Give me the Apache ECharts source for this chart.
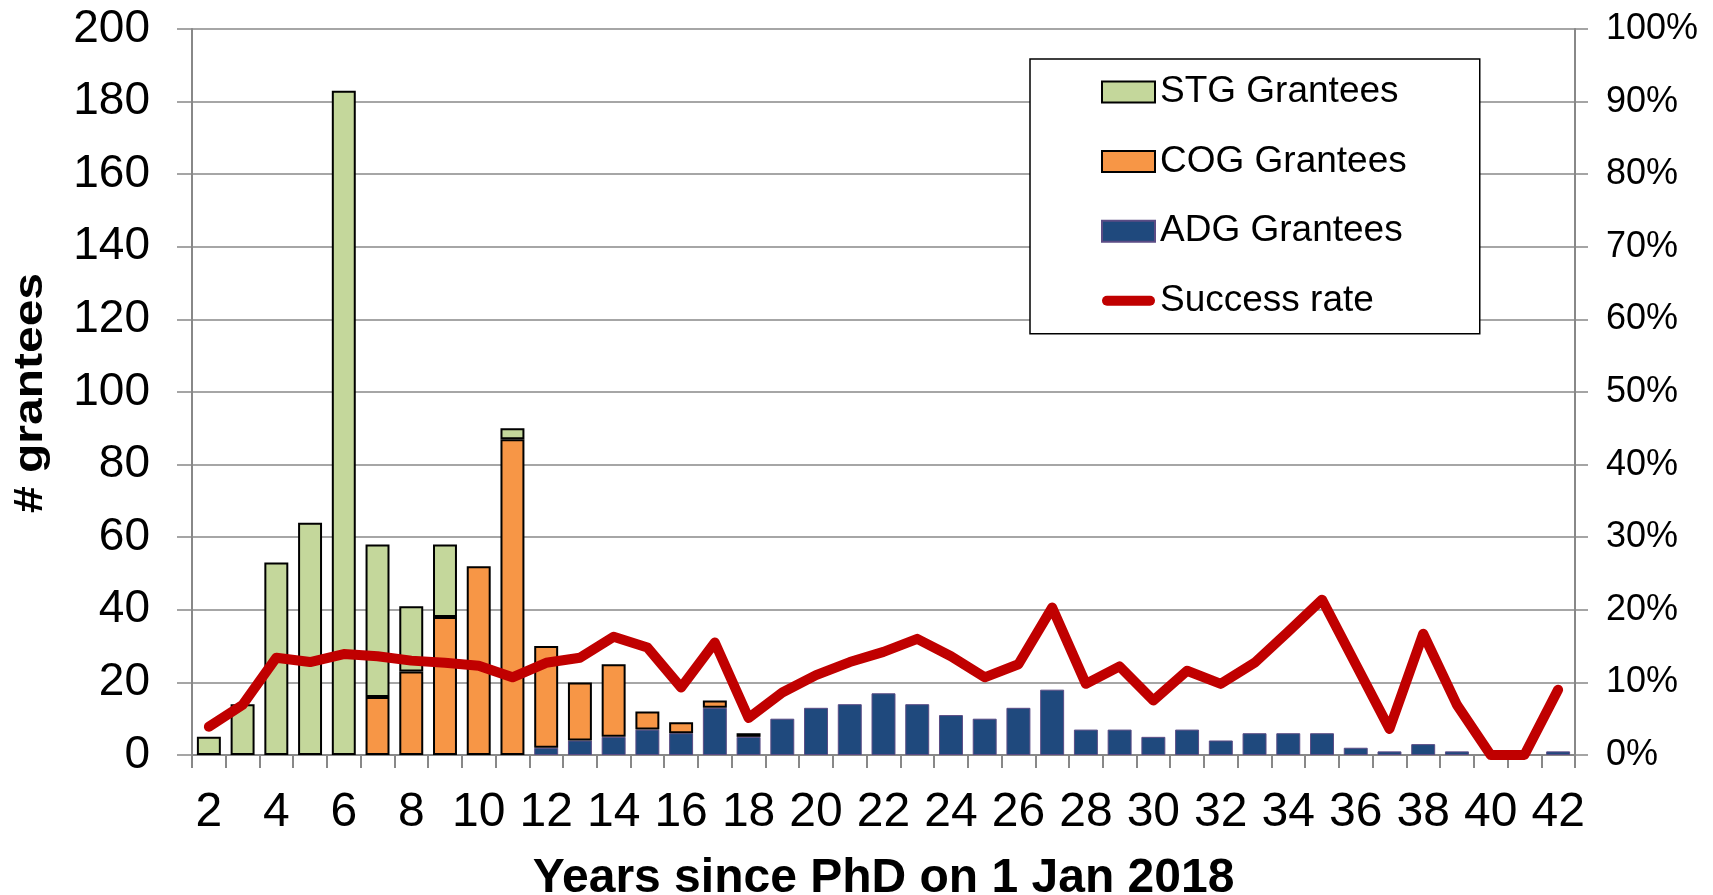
<!DOCTYPE html>
<html>
<head>
<meta charset="utf-8">
<script src="https://cdn.jsdelivr.net/npm/echarts@6/dist/echarts.min.js"></script>
<style>
  html, body { margin: 0; padding: 0; background: #fff; }
  #chart { width: 1713px; height: 895px; }
</style>
</head>
<body>
<div id="chart"></div>
<script>
  // years since PhD (x axis)
  var years = [];
  for (var y = 2; y <= 42; y++) years.push(String(y));

  // grantees per year
  var stg = [5, 14, 53, 64, 183, 42, 18, 20, 0, 3, 0, 0, 0, 0, 0, 0, 0, 0, 0, 0, 0,
             0, 0, 0, 0, 0, 0, 0, 0, 0, 0, 0, 0, 0, 0, 0, 0, 0, 0, 0, 0];
  var cog = [0, 0, 0, 0, 0, 16, 23, 38, 52, 87, 28, 16, 20, 5, 3, 2, 1, 0, 0, 0, 0,
             0, 0, 0, 0, 0, 0, 0, 0, 0, 0, 0, 0, 0, 0, 0, 0, 0, 0, 0, 0];
  var adg = [0, 0, 0, 0, 0, 0, 0, 0, 0, 0, 2, 4, 5, 7, 6, 13, 5, 10, 13, 14, 17,
             14, 11, 10, 13, 18, 7, 7, 5, 7, 4, 6, 6, 6, 2, 1, 3, 1, 0, 0, 1];
  // success rate in %
  var rate = [3.9, 6.9, 13.4, 12.8, 13.9, 13.6, 13.0, 12.7, 12.3, 10.7, 12.7, 13.4, 16.3, 14.8,
              9.3, 15.5, 5.1, 8.6, 11.0, 12.8, 14.2, 16.0, 13.6, 10.7, 12.5, 20.3, 9.8, 12.2,
              7.5, 11.6, 9.8, 12.7, 17.0, 21.4, 12.5, 3.6, 16.7, 6.9, 0, 0, 9.0];

  var font = "'Liberation Sans', Arial, sans-serif";
  var gridGrey = '#888888';

  function noZero(arr) {
    return arr.map(function (v) { return v === 0 ? null : v; });
  }

  var chart = echarts.init(document.getElementById('chart'));
  chart.setOption({
    backgroundColor: '#ffffff',
    animation: false,
    textStyle: { fontFamily: font },
    grid: { left: 192, right: 138, top: 29, bottom: 140, containLabel: false, outerBoundsMode: 'none' },
    legend: {
      orient: 'vertical',
      left: 1030,
      top: 59,
      padding: [14, 73, 14, 71],
      itemGap: 31.6,
      itemWidth: 53,
      itemHeight: 21,
      backgroundColor: '#ffffff',
      borderColor: '#000000',
      borderWidth: 1.5,
      borderRadius: 0,
      textStyle: { fontSize: 37, lineHeight: 38, color: '#000', fontFamily: font },
      data: [
        { name: 'STG Grantees', icon: 'rect' },
        { name: 'COG Grantees', icon: 'rect' },
        { name: 'ADG Grantees', icon: 'rect' },
        {
          name: 'Success rate',
          icon: 'path://M5,0 L48,0 A5,5 0 0 1 48,10 L5,10 A5,5 0 0 1 5,0 Z',
          itemStyle: { color: '#C00000', borderWidth: 0 }
        }
      ]
    },
    xAxis: {
      type: 'category',
      data: years,
      boundaryGap: true,
      name: 'Years since PhD on 1 Jan 2018',
      nameLocation: 'middle',
      nameGap: 100,
      nameTextStyle: { fontSize: 48, fontWeight: 'bold', color: '#000', fontFamily: font },
      axisLine: { show: true, lineStyle: { color: gridGrey, width: 2 } },
      axisTick: { show: true, interval: 0, length: 13, lineStyle: { color: gridGrey, width: 2 } },
      axisLabel: { interval: 1, fontSize: 48, color: '#000', margin: 34, fontFamily: font },
      splitLine: { show: false }
    },
    yAxis: [
      {
        type: 'value',
        min: 0,
        max: 200,
        interval: 20,
        axisLine: { show: true, lineStyle: { color: gridGrey, width: 2 } },
        axisTick: { show: true, length: 15, lineStyle: { color: gridGrey, width: 1.5 } },
        axisLabel: { fontSize: 46, color: '#000', margin: 42, fontFamily: font },
        splitLine: { show: true, lineStyle: { color: gridGrey, width: 1.5 } }
      },
      {
        type: 'value',
        min: 0,
        max: 100,
        interval: 10,
        position: 'right',
        axisLine: { show: true, lineStyle: { color: gridGrey, width: 2 } },
        axisTick: { show: true, length: 13, lineStyle: { color: gridGrey, width: 1.5 } },
        axisLabel: { fontSize: 36, color: '#000', margin: 31, formatter: '{value}%', fontFamily: font },
        splitLine: { show: false }
      }
    ],
    graphic: [
      {
        type: 'text',
        x: 31,
        y: 393,
        rotation: Math.PI / 2,
        scaleX: 1.2,
        style: {
          text: '# grantees',
          font: 'bold 40px ' + font,
          fill: '#000',
          align: 'center',
          verticalAlign: 'middle',
          textAlign: 'center',
          textVerticalAlign: 'middle'
        }
      }
    ],
    series: [
      {
        name: 'ADG Grantees',
        type: 'bar',
        stack: 'grantees',
        barCategoryGap: '29%',
        data: noZero(adg),
        itemStyle: { color: '#1F497D', borderColor: '#5B4C85', borderWidth: 1 }
      },
      {
        name: 'COG Grantees',
        type: 'bar',
        stack: 'grantees',
        data: noZero(cog),
        itemStyle: { color: '#F79646', borderColor: '#000000', borderWidth: 2 }
      },
      {
        name: 'STG Grantees',
        type: 'bar',
        stack: 'grantees',
        data: noZero(stg),
        itemStyle: { color: '#C4D79B', borderColor: '#000000', borderWidth: 2 }
      },
      {
        name: 'Success rate',
        type: 'line',
        yAxisIndex: 1,
        data: rate,
        symbol: 'none',
        z: 5,
        lineStyle: { color: '#C00000', width: 10, cap: 'round', join: 'round' },
        itemStyle: { color: '#C00000' }
      }
    ]
  });
</script>
</body>
</html>
